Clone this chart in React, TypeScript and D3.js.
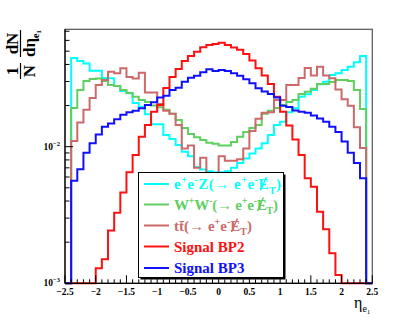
import React from "react";
import * as d3 from "d3";

// Histogram: 50 bins from -2.5 to 2.5 (eta of leading electron)
const xMin = -2.5;
const xMax = 2.5;
const nBins = 50;

const eeZ = [0, 0.0446, 0.0424, 0.0407, 0.036, 0.036, 0.0318, 0.0317, 0.0278, 0.0256, 0.0246, 0.0209, 0.0196, 0.0173, 0.0146, 0.0146, 0.0122, 0.0114, 0.0103, 0.0092, 0.0085, 0.0071, 0.0068, 0.0066, 0.0065, 0.0065, 0.0066, 0.007, 0.0076, 0.0082, 0.0089, 0.0097, 0.0106, 0.0122, 0.0144, 0.0152, 0.0179, 0.0191, 0.0232, 0.0242, 0.026, 0.0286, 0.0299, 0.0335, 0.0345, 0.0364, 0.0385, 0.0415, 0.0461, 0];
const WW = [0, 0.0192, 0.026, 0.0303, 0.0313, 0.0316, 0.0303, 0.0283, 0.0278, 0.026, 0.0247, 0.0232, 0.022, 0.0212, 0.02, 0.0194, 0.0186, 0.0174, 0.0157, 0.0137, 0.0124, 0.0117, 0.0112, 0.0107, 0.0105, 0.0102, 0.0102, 0.0108, 0.0118, 0.0128, 0.0137, 0.0144, 0.0174, 0.0183, 0.0192, 0.0202, 0.0212, 0.022, 0.0243, 0.0252, 0.0265, 0.0288, 0.0288, 0.0298, 0.0308, 0.0308, 0.0303, 0.026, 0.0189, 0];
const ttbar = [0, 0.011, 0.015, 0.0186, 0.0227, 0.0283, 0.0308, 0.0354, 0.0344, 0.0375, 0.0324, 0.0315, 0.0347, 0.0249, 0.0249, 0.0205, 0.0183, 0.0174, 0.0144, 0.0097, 0.0102, 0.007, 0.0083, 0.0061, 0.0061, 0.0085, 0.0079, 0.0079, 0.0081, 0.0097, 0.013, 0.016, 0.0177, 0.0179, 0.022, 0.022, 0.0283, 0.0283, 0.0318, 0.0377, 0.0332, 0.0385, 0.0332, 0.0317, 0.0262, 0.0222, 0.0199, 0.0139, 0.0098, 0];
const BP2 = [0, 0, 0, 0, 0, 0.00129, 0.0015, 0.00243, 0.00329, 0.00461, 0.00651, 0.00869, 0.0118, 0.0144, 0.018, 0.0202, 0.0269, 0.0324, 0.0371, 0.0424, 0.0461, 0.0496, 0.0535, 0.0555, 0.0565, 0.0577, 0.0555, 0.0531, 0.0513, 0.0477, 0.0428, 0.0375, 0.0332, 0.0288, 0.0232, 0.018, 0.0143, 0.0113, 0.00869, 0.00587, 0.00509, 0.00334, 0.00249, 0.00166, 0.00115, 0, 0, 0, 0, 0];
const BP3 = [0, 0.00564, 0.00683, 0.00904, 0.0106, 0.0123, 0.014, 0.0148, 0.0159, 0.0171, 0.0179, 0.0183, 0.0191, 0.0202, 0.0211, 0.0229, 0.0236, 0.026, 0.027, 0.0299, 0.032, 0.0331, 0.035, 0.0369, 0.0358, 0.0364, 0.0358, 0.0345, 0.0331, 0.0311, 0.0291, 0.0268, 0.0253, 0.0243, 0.0229, 0.0199, 0.0195, 0.0184, 0.018, 0.0177, 0.0169, 0.0161, 0.0152, 0.014, 0.0128, 0.0109, 0.00904, 0.0076, 0.00587, 0];

const xTickLabels = ["-2.5", "-2", "-1.5", "-1", "-0.5", "0", "0.5", "1", "1.5", "2", "2.5"];
const yMin = 1e-3;
const yMax = 0.0723;

const COLORS = {
  cyan: "#00ffff",
  green: "#5fcf5f",
  brown: "#cc6a6a",
  red: "#ff1010",
  blue: "#1010ff",
};

const W = 409;
const H = 327;
const L = 65;
const R = 372.3;
const T = 29.3;
const B = 283.3;

const FONT = "'Liberation Serif', 'Times New Roman', serif";

type Seg = { t: string; s?: "sup" | "sub" };

function RichText({ x, y, segs, size, fill, len }: { x: number; y: number; segs: Seg[]; size: number; fill: string; len?: number }) {
  let level = 0;
  const out: React.ReactNode[] = [];
  segs.forEach((sg, i) => {
    const target = sg.s === "sup" ? -0.4 * size : sg.s === "sub" ? 0.3 * size : 0;
    const dy = target - level;
    level = target;
    out.push(
      <tspan key={i} dy={dy} fontSize={sg.s ? size * 0.66 : size}>
        {sg.t}
      </tspan>
    );
  });
  return (
    <text
      x={x}
      y={y}
      fill={fill}
      fontSize={size}
      fontWeight="bold"
      fontFamily={FONT}
      textLength={len}
      lengthAdjust={len ? "spacing" : undefined}
    >
      {out}
    </text>
  );
}

export default function App() {
  const x = d3.scaleLinear().domain([xMin, xMax]).range([L, R]);
  const y = d3.scaleLog().domain([yMin, yMax]).range([B, T]);
  const bw = (xMax - xMin) / nBins;

  const histPath = (vals: number[]) => {
    const pts: [number, number][] = [];
    vals.forEach((v, i) => {
      const yy = y(Math.max(v, yMin));
      pts.push([x(xMin + i * bw), yy]);
      pts.push([x(xMin + (i + 1) * bw), yy]);
    });
    return d3.line()(pts) || "";
  };

  const series = [
    { vals: eeZ, color: COLORS.cyan },
    { vals: WW, color: COLORS.green },
    { vals: ttbar, color: COLORS.brown },
    { vals: BP2, color: COLORS.red },
    { vals: BP3, color: COLORS.blue },
  ];

  const xTicks = d3.range(0, nBins + 1).map((i) => xMin + i * bw);
  const yMinor = [2, 3, 4, 5, 6, 7, 8, 9].map((k) => k * 1e-3).concat([2, 3, 4, 5, 6, 7].map((k) => k * 1e-2));

  const metTail: Seg[] = [{ t: "E" }, { t: "T", s: "sub" }, { t: ")" }];
  const legendRows: { color: string; segs: Seg[]; len?: number; met?: boolean }[] = [
    {
      color: COLORS.cyan,
      len: 107,
      met: true,
      segs: [
        { t: "e" }, { t: "+", s: "sup" }, { t: "e" }, { t: "-", s: "sup" }, { t: "Z(→ e" }, { t: "+", s: "sup" }, { t: "e" }, { t: "-", s: "sup" }, ...metTail,
      ],
    },
    {
      color: COLORS.green,
      len: 104,
      met: true,
      segs: [
        { t: "W" }, { t: "+", s: "sup" }, { t: "W" }, { t: "-", s: "sup" }, { t: "(→ e" }, { t: "+", s: "sup" }, { t: "e" }, { t: "-", s: "sup" }, ...metTail,
      ],
    },
    {
      color: COLORS.brown,
      len: 78,
      met: true,
      segs: [{ t: "tt̄(→ e" }, { t: "+", s: "sup" }, { t: "e" }, { t: "-", s: "sup" }, ...metTail],
    },
    { color: COLORS.red, segs: [{ t: "Signal BP2" }] },
    { color: COLORS.blue, segs: [{ t: "Signal BP3" }] },
  ];
  const legendY = [184, 204.5, 225.5, 246.5, 268];
  const textX = 174;

  return (
    <svg width={W} height={H} style={{ position: "absolute", left: 0, top: 0, background: "#fff" }}>
      <rect x={0} y={0} width={W} height={H} fill="#fff" />
      {/* frame */}
      <rect x={L} y={T} width={R - L} height={B - T} fill="none" stroke="#555" strokeWidth={1.2} />

      {/* histograms */}
      {series.map((s, i) => (
        <path key={i} d={histPath(s.vals)} fill="none" stroke={s.color} strokeWidth={2} strokeLinejoin="miter" />
      ))}

      {/* axes */}
      <line x1={L} x2={R} y1={B} y2={B} stroke="#000" strokeWidth={1.2} />
      <line x1={L} x2={L} y1={T} y2={B} stroke="#000" strokeWidth={1.2} />
      {xTicks.map((t, i) => {
        const major = i % 5 === 0;
        return <line key={i} x1={x(t)} x2={x(t)} y1={B} y2={B - (major ? 8 : 4)} stroke="#000" strokeWidth={1} />;
      })}
      {xTickLabels.map((lab) => (
        <text key={lab} x={x(+lab)} y={295} textAnchor="middle" fontSize={9.5} fontWeight="bold" fontFamily={FONT} fill="#000">
          {lab.replace("-", "−")}
        </text>
      ))}
      {yMinor.map((v, i) => (
        <line key={i} x1={L} x2={L + 4.5} y1={y(v)} y2={y(v)} stroke="#000" strokeWidth={1} />
      ))}
      <line x1={L} x2={L + 8} y1={y(1e-2)} y2={y(1e-2)} stroke="#000" strokeWidth={1} />
      {[1e-2, 1e-3].map((v) => (
        <text key={v} x={60} y={y(v) + 3} textAnchor="end" fontSize={9.5} fontWeight="bold" fontFamily={FONT} fill="#000">
          10
          <tspan dy={-4} fontSize={6.5}>{v === 1e-2 ? "−2" : "−3"}</tspan>
        </text>
      ))}

      {/* y title: 1/N dN/deta */}
      <g transform="rotate(-90)" fontFamily={FONT} fontWeight="bold" fontSize={17} fill="#000">
        <text x={-71} y={18} textAnchor="middle">1</text>
        <text x={-71} y={35} textAnchor="middle">N</text>
        <text x={-43.5} y={18} textAnchor="middle">dN</text>
        <text x={-43.5} y={35} textAnchor="middle">
          dη
          <tspan fontSize={10} dy={4}>e</tspan>
          <tspan fontSize={7} dy={2}>1</tspan>
        </text>
      </g>
      <line x1={20.5} x2={20.5} y1={63} y2={79} stroke="#000" strokeWidth={1.2} />
      <line x1={20.5} x2={20.5} y1={30} y2={57} stroke="#000" strokeWidth={1.2} />

      {/* x title */}
      <text x={354} y={308} fontSize={16} fontFamily={FONT} fill="#000">
        η
        <tspan fontSize={10} dy={4}>e</tspan>
        <tspan fontSize={7} dy={2}>1</tspan>
      </text>

      {/* legend */}
      <rect x={140.5} y={174.5} width={145} height={105} fill="#000" />
      <rect x={138.5} y={172.5} width={145} height={105} fill="#fff" stroke="#000" strokeWidth={1} />
      {legendRows.map((r, i) => {
        const base = legendY[i] + 5;
        const ec = r.len ? textX + r.len - 18 : 0;
        return (
          <g key={i}>
            <line x1={144} x2={169} y1={legendY[i]} y2={legendY[i]} stroke={r.color} strokeWidth={2} />
            <RichText x={textX} y={base} segs={r.segs} size={15} fill={r.color} len={r.len} />
            {r.met && (
              <line x1={ec + 3.5} x2={ec - 2.5} y1={base - 12} y2={base + 1.5} stroke={r.color} strokeWidth={1.4} />
            )}
          </g>
        );
      })}
    </svg>
  );
}
